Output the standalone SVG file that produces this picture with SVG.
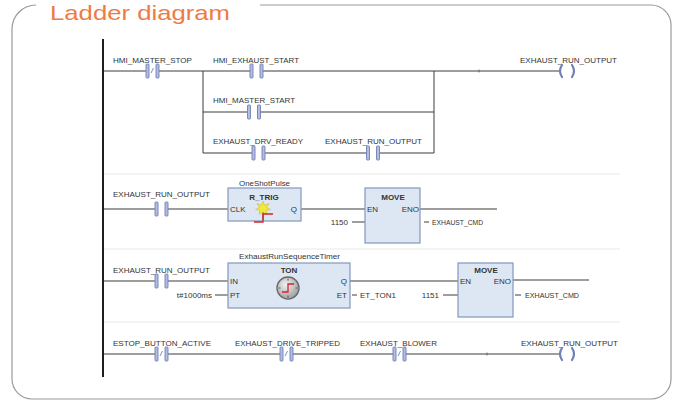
<svg xmlns="http://www.w3.org/2000/svg" xmlns:xlink="http://www.w3.org/1999/xlink" width="677" height="403" viewBox="0 0 677 403">
<style>
.t{font-family:"Liberation Sans",Arial,sans-serif;font-size:8px;fill:#333}
.b{font-weight:bold}
.m{text-anchor:middle}
.e{text-anchor:end}
.w{stroke:#3c3c3c;stroke-width:1;fill:none}
.sep{stroke:#e9e9e9;stroke-width:1}
.bar{fill:#b3bde0;stroke:#6f80b6;stroke-width:0.9}
.coil{fill:none;stroke:#6f80b6;stroke-width:2.2;stroke-linecap:round}
.box{fill:#dde7f3;stroke:#8497bd;stroke-width:1.2}
.title{font-family:"Liberation Sans",Arial,sans-serif;font-size:21px;fill:#f07a44}
</style>
<defs>
<g id="no">
<rect x="-3.5" y="-3" width="7" height="6" fill="#fff"/>
<rect class="bar" x="-6.5" y="-7" width="3" height="14" rx="0.8"/>
<rect class="bar" x="3.5" y="-7" width="3" height="14" rx="0.8"/>
</g>
<g id="nc">
<use xlink:href="#no"/>
<line x1="-1.5" y1="2" x2="1" y2="-3" stroke="#6f80b6" stroke-width="0.9"/>
</g>
<g id="coil">
<rect x="-5" y="-3" width="10" height="6" fill="#fff"/>
<path class="coil" d="M-5,-6 Q-9,0 -5,6 M5,-6 Q9,0 5,6"/>
</g>
<radialGradient id="cg" cx="0.4" cy="0.35" r="0.7">
<stop offset="0" stop-color="#f2f2f2"/>
<stop offset="1" stop-color="#9a9a9a"/>
</radialGradient>
</defs>
<rect width="677" height="403" fill="#fff"/>

<g id="frame">
<path d="M260,5 H651 A20,20 0 0 1 671,25 V379 A20,20 0 0 1 651,399 H32 A20,20 0 0 1 12,379 V29 A24,24 0 0 1 36,5" fill="none" stroke="#9a9a9a" stroke-width="1.2"/>
<text class="title" x="50" y="19.5" textLength="180" lengthAdjust="spacingAndGlyphs">Ladder diagram</text>
</g>

<g id="separators">
<line class="sep" x1="104" y1="174" x2="620" y2="174"/>
<line class="sep" x1="104" y1="249" x2="620" y2="249"/>
<line class="sep" x1="104" y1="322" x2="620" y2="322"/>
</g>

<g id="connectors">
<path class="w" d="M103,71 H561 M203,71 V153 M434,71 V153 M203,112 H434 M203,153 H434"/>
<line x1="479" y1="69.5" x2="479" y2="72.5" stroke="#555" stroke-width="0.8"/>
<path class="w" d="M103,209 H228 M301,209 H365 M420,209 H497 M352,222 H365 M424,222 H429"/>
<path class="w" d="M103,281 H228 M215,295 H228 M350,281 H458 M352,295 H357 M443,295 H458 M513,280 H589 M515,295 H521"/>
<path class="w" d="M103,354 H561"/>
<line x1="487" y1="352.5" x2="487" y2="355.5" stroke="#555" stroke-width="0.8"/>
</g>

<g id="rail">
<line x1="103" y1="39" x2="103" y2="377" stroke="#1e1e1e" stroke-width="2"/>
</g>

<g id="hmi_master_stop">
<text class="t" x="113" y="63" textLength="79" lengthAdjust="spacingAndGlyphs">HMI_MASTER_STOP</text>
<use xlink:href="#nc" x="152.5" y="71"/>
</g>
<g id="hmi_exhaust_start">
<text class="t" x="213" y="63" textLength="86" lengthAdjust="spacingAndGlyphs">HMI_EXHAUST_START</text>
<use xlink:href="#no" x="256.5" y="71"/>
</g>
<g id="hmi_master_start">
<text class="t" x="213" y="103" textLength="82" lengthAdjust="spacingAndGlyphs">HMI_MASTER_START</text>
<use xlink:href="#no" x="254" y="112"/>
</g>
<g id="exhaust_drv_ready">
<text class="t" x="213" y="144" textLength="90" lengthAdjust="spacingAndGlyphs">EXHAUST_DRV_READY</text>
<use xlink:href="#no" x="258.5" y="153"/>
</g>
<g id="exhaust_run_output_seal">
<text class="t" x="325" y="144" textLength="97" lengthAdjust="spacingAndGlyphs">EXHAUST_RUN_OUTPUT</text>
<use xlink:href="#no" x="373" y="153"/>
</g>
<g id="coil_rung1">
<text class="t" x="520" y="63" textLength="97" lengthAdjust="spacingAndGlyphs">EXHAUST_RUN_OUTPUT</text>
<use xlink:href="#coil" x="567" y="71"/>
</g>

<g id="contact_rung2">
<text class="t" x="113" y="197" textLength="97" lengthAdjust="spacingAndGlyphs">EXHAUST_RUN_OUTPUT</text>
<use xlink:href="#no" x="161.5" y="209"/>
</g>
<g id="r_trig">
<text class="t m" x="264.5" y="186" textLength="51" lengthAdjust="spacingAndGlyphs">OneShotPulse</text>
<rect class="box" x="228" y="188" width="73" height="33"/>
<text class="t b m" x="264" y="200">R_TRIG</text>
<text class="t" x="230" y="212">CLK</text>
<text class="t e" x="297" y="212">Q</text>
<rect x="262.2" y="210" width="1.8" height="10" fill="#8a8a8a"/>
<polygon points="263,201 264.6,205.2 269,203.5 266.6,207.6 270.5,209.5 266.2,210.4 267.2,214.5 263,212 259.2,214.5 259.8,210.4 255.5,209.5 259.4,207.6 257,203.5 261.4,205.2" fill="#f2e73a" stroke="#c9b72a" stroke-width="0.5"/>
<path d="M254,222 H263 V214 H273" fill="none" stroke="#d2262a" stroke-width="1.3"/>
</g>
<g id="move1">
<rect class="box" x="365" y="188" width="55" height="55"/>
<text class="t b m" x="393" y="200">MOVE</text>
<text class="t" x="367" y="212">EN</text>
<text class="t e" x="419" y="212">ENO</text>
<text class="t e" x="348" y="225">1150</text>
<text class="t" x="432" y="225" textLength="51" lengthAdjust="spacingAndGlyphs">EXHAUST_CMD</text>
</g>

<g id="contact_rung3">
<text class="t" x="113" y="273" textLength="97" lengthAdjust="spacingAndGlyphs">EXHAUST_RUN_OUTPUT</text>
<use xlink:href="#no" x="161.5" y="281"/>
</g>
<g id="ton">
<text class="t m" x="289.5" y="259" textLength="101" lengthAdjust="spacingAndGlyphs">ExhaustRunSequenceTimer</text>
<rect class="box" x="228" y="263" width="122" height="45"/>
<text class="t b m" x="289" y="273">TON</text>
<text class="t" x="230" y="284">IN</text>
<text class="t" x="230" y="298">PT</text>
<text class="t e" x="347" y="284">Q</text>
<text class="t e" x="347" y="298">ET</text>
<circle cx="288" cy="288" r="11" fill="url(#cg)" stroke="#6a6a6a" stroke-width="1.4"/>
<path d="M288,278.5 V280.5 M288,295.5 V297.5 M278.5,288 H280.5 M295.5,288 H297.5" stroke="#555" stroke-width="1"/>
<path d="M282,292 H288 V284 H294" fill="none" stroke="#d2262a" stroke-width="1.3"/>
<text class="t e" x="212" y="298">t#1000ms</text>
<text class="t" x="360" y="298">ET_TON1</text>
</g>
<g id="move2">
<rect class="box" x="458" y="263" width="55" height="54"/>
<text class="t b m" x="486" y="273">MOVE</text>
<text class="t" x="460" y="284">EN</text>
<text class="t e" x="511" y="284">ENO</text>
<text class="t e" x="439" y="298">1151</text>
<text class="t" x="525" y="298" textLength="54" lengthAdjust="spacingAndGlyphs">EXHAUST_CMD</text>
</g>

<g id="estop_button_active">
<text class="t" x="113" y="346" textLength="98" lengthAdjust="spacingAndGlyphs">ESTOP_BUTTON_ACTIVE</text>
<use xlink:href="#nc" x="161.5" y="354"/>
</g>
<g id="exhaust_drive_tripped">
<text class="t" x="235" y="346" textLength="105" lengthAdjust="spacingAndGlyphs">EXHAUST_DRIVE_TRIPPED</text>
<use xlink:href="#nc" x="286.5" y="354"/>
</g>
<g id="exhaust_blower">
<text class="t" x="360" y="346" textLength="77" lengthAdjust="spacingAndGlyphs">EXHAUST_BLOWER</text>
<use xlink:href="#nc" x="399.5" y="354"/>
</g>
<g id="coil_rung4">
<text class="t" x="521" y="346" textLength="97" lengthAdjust="spacingAndGlyphs">EXHAUST_RUN_OUTPUT</text>
<use xlink:href="#coil" x="567" y="354"/>
</g>
</svg>
